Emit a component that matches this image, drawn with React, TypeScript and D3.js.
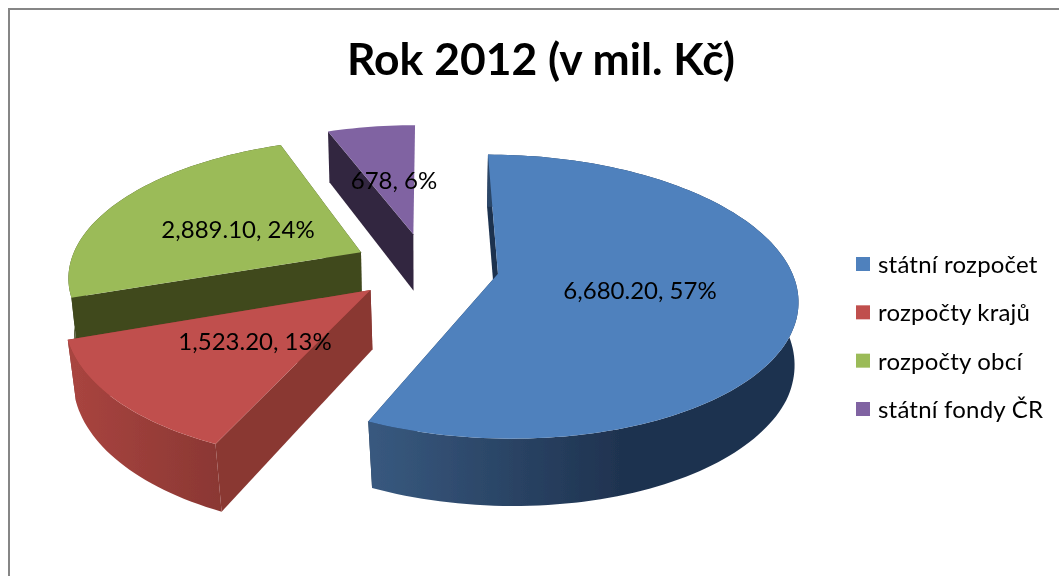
import React from 'react';
import * as d3 from 'd3';

// data
const categories = ['státní rozpočet', 'rozpočty krajů', 'rozpočty obcí', 'státní fondy ČR'];
const values = [6680.2, 1523.2, 2889.1, 678];
const valueLabels = ['6,680.20', '1,523.20', '2,889.10', '678'];
const percents = ['57%', '13%', '24%', '6%'];

const colors = ['#4f81bd', '#c0504d', '#9bbb59', '#8064a2'];
const sideColors = ['#1f3350', '#8a3733', '#40481f', '#32263f'];
// outer wall colour runs left to right across the screen
const wallXs = [[370, 620, 800], [75, 222], [60, 300], [320, 420]];
const wallColors = [
  ['#38597f', '#1f3350', '#1f3350'],
  ['#a8443f', '#8a3733'],
  ['#40481f', '#40481f'],
  ['#32263f', '#32263f'],
];
const labelCenters = [[640, 290], [255, 341], [238, 229], [394, 180]];

const width = 1059;
const height = 576;

// 3d pie camera, fitted by eye
const cx = 426;
const cy = 266.5;
const R = 292;
const A = 136;
const P = 0.16;
const DEPTH = 59;
const BOTTOM_SCALE = 1.015;
const EXPLODE = 0.25;
// the lower rim drifts right only towards the front of the pie
const bottomShift = d3.scaleLinear().domain([0, -0.5]).range([0, 3]).clamp(true);

const project = (x: number, y: number, bottom: boolean): [number, number] => {
  const w = (1 + y * P) * (bottom ? BOTTOM_SCALE : 1);
  return [cx + (bottom ? bottomShift(y) : 0) + (x * R) / w, cy + (-y * A + (bottom ? DEPTH : 0)) / w];
};

const line = d3.line();

function Slice({ arc, i }: { arc: d3.PieArcDatum<number>; i: number }) {
  const mid = (arc.startAngle + arc.endAngle) / 2;
  const ox = Math.sin(mid) * EXPLODE;
  const oy = Math.cos(mid) * EXPLODE;
  const steps = Math.max(8, Math.round(((arc.endAngle - arc.startAngle) * 180) / Math.PI / 1.5));
  const angles = d3.range(steps + 1).map((k) => arc.startAngle + ((arc.endAngle - arc.startAngle) * k) / steps);
  const rim = (t: number, bottom: boolean) => project(ox + Math.sin(t), oy + Math.cos(t), bottom);
  const apexTop = project(ox, oy, false);
  const apexBottom = project(ox, oy, true);
  const xs = wallXs[i];
  const stopOffset = d3.scaleLinear().domain([xs[0], xs[xs.length - 1]]).range([0, 1]);

  const topPath = line([apexTop, ...angles.map((t) => rim(t, false))]) + 'Z';
  const radial = (t: number) => line([apexTop, rim(t, false), rim(t, true), apexBottom]) + 'Z';
  const wallPath =
    line([...angles.map((t) => rim(t, false)), ...angles.slice().reverse().map((t) => rim(t, true))]) + 'Z';
  // the last slice's closing face looks away from the viewer
  const closingFaceHidden = arc.endAngle > 2 * Math.PI - 0.01;

  return (
    <g>
      <defs>
        <linearGradient id={`wall${i}`} gradientUnits="userSpaceOnUse" x1={xs[0]} y1={0} x2={xs[xs.length - 1]} y2={0}>
          {xs.map((x, k) => (
            <stop key={k} offset={stopOffset(x)} stopColor={wallColors[i][k]} />
          ))}
        </linearGradient>
      </defs>
      {!closingFaceHidden && <path d={radial(arc.endAngle)} fill={sideColors[i]} />}
      <path d={radial(arc.startAngle)} fill={sideColors[i]} />
      {!closingFaceHidden && <path d={wallPath} fill={`url(#wall${i})`} />}
      <path d={topPath} fill={colors[i]} />
    </g>
  );
}

export default function App() {
  const arcs = d3.pie<number>().sort(null)(values);
  const legendY = d3.scalePoint<string>().domain(categories).range([264, 409]);
  // back slices first
  const order = [3, 2, 1, 0];

  return (
    <svg
      width={width}
      height={height}
      style={{ position: 'fixed', left: 0, top: 0, display: 'block', background: '#fff' }}
      fontFamily="Lato, 'Open Sans', sans-serif"
    >
      <defs>
        <filter id="soft" x="-5%" y="-5%" width="110%" height="110%">
          <feGaussianBlur stdDeviation="0.5" />
        </filter>
      </defs>
      <path d={`M9,${height}V9H${width}`} fill="none" stroke="#868686" strokeWidth={2} />
      <g filter="url(#soft)">
        <text x={541} y={75} textAnchor="middle" fontSize={44} fontWeight={700} textLength={388} lengthAdjust="spacingAndGlyphs" fill="#000">
          Rok 2012 (v mil. Kč)
        </text>
        {order.map((i) => (
          <Slice key={i} arc={arcs[i]} i={i} />
        ))}
        {labelCenters.map((p, i) => (
          <text key={i} x={p[0]} y={p[1]} dy="0.36em" textAnchor="middle" fontSize={24} fill="#000">
            {`${valueLabels[i]}, ${percents[i]}`}
          </text>
        ))}
        {categories.map((c, i) => (
          <g key={c} transform={`translate(0,${legendY(c)})`}>
            <rect x={856} y={-7} width={14} height={14} fill={colors[i]} />
            <text x={878} y={9} fontSize={24} letterSpacing={0.2} fill="#000">
              {c}
            </text>
          </g>
        ))}
      </g>
    </svg>
  );
}
